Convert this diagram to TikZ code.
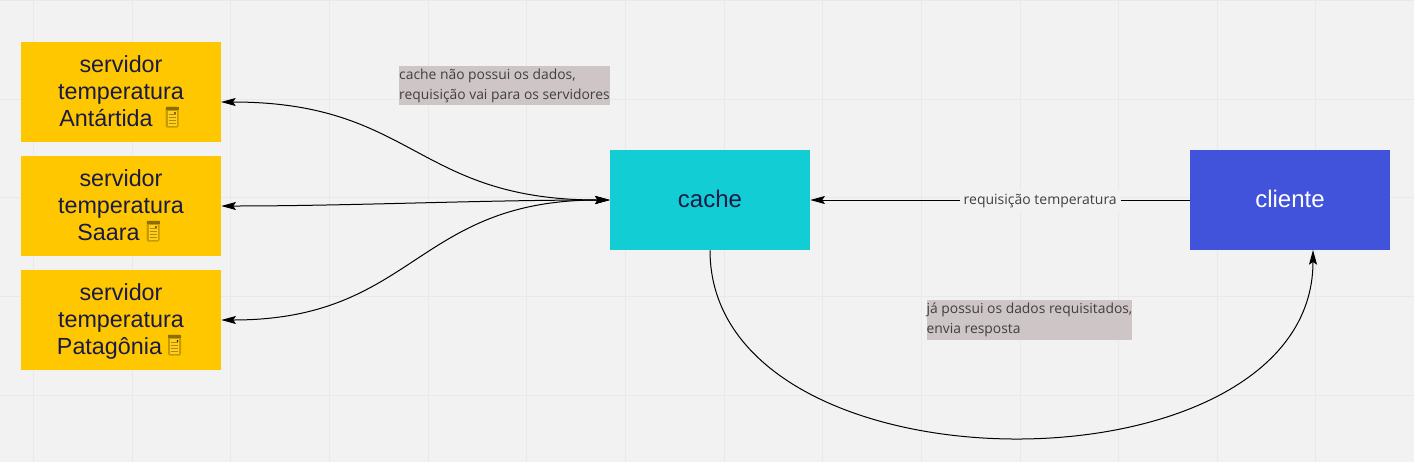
\documentclass[tikz,border=0pt]{standalone}
\usepackage{fontspec}
\setmainfont{Liberation Sans}
\newfontfamily\notefont{Open Sans}
\usetikzlibrary{arrows.meta}
\definecolor{paper}{RGB}{242,242,242}
\definecolor{gridline}{RGB}{233,233,233}
\definecolor{serverfill}{RGB}{255,199,0}
\definecolor{cachefill}{RGB}{18,205,212}
\definecolor{clientfill}{RGB}{65,83,219}
\definecolor{notefill}{RGB}{206,198,198}
\definecolor{boxtext}{RGB}{26,26,70}
\definecolor{notetext}{RGB}{64,64,64}
\tikzset{
  box/.style={minimum width=150pt,minimum height=75pt,inner sep=0pt,align=center,text=boxtext,text depth=1.5pt,font=\fontsize{18}{20.25}\selectfont},
  serverbox/.style={box,fill=serverfill,font=\fontsize{17.5}{20.25}\selectfont},
  note/.style={fill=notefill,text=notetext,inner sep=0pt,minimum height=29.5pt,align=left,execute at begin node={\rule{0pt}{11pt}},font=\notefont\fontsize{10.4}{15}\selectfont},
  link/.style={black,line width=0.75pt},
  both/.style={{Stealth[length=11pt,width=6pt,inset=2pt]}-{Stealth[length=11pt,width=6pt,inset=2pt]}},
  single/.style={-{Stealth[length=11pt,width=6pt,inset=2pt]}},
  servericon/.pic={
    \fill[rounded corners=1pt,fill=serverfill!78!black] (-6.5,-10.5) rectangle (6.5,10.5);
    \fill[fill=serverfill!88!white] (-4.5,-8.5) rectangle (4.5,6.5);
    \foreach \y in {-6,-3,0,3}
      \draw[serverfill!70!black,line width=0.6pt] (-3.5,\y) -- (3.5,\y);
    \fill[serverfill!55!black] (-6.5,7.5) rectangle (6.5,10.5);
    \fill[black] (3,4) circle (0.8);
  }
}
\begin{document}
\begin{tikzpicture}[x=0.75pt,y=0.75pt,yscale=-1,xscale=1]
    \useasboundingbox (0,0) rectangle (1414,462);
    \fill[paper] (0,0) rectangle (1414,462);
    % grid
    \foreach \i in {0,...,13}
        \draw[gridline,line width=0.75pt] ({33.5+98.65*\i},0) -- ({33.5+98.65*\i},462);
    \foreach \i in {0,...,4}
        \draw[gridline,line width=0.75pt] (0,{0.4+98.65*\i}) -- (1414,{0.4+98.65*\i});
    % servers
    \node (antartida) [serverbox] at (121,92) {servidor\\temperatura\\Antártida\hspace*{22.5pt}};
    \node (saara) [serverbox] at (121,206) {servidor\\temperatura\\Saara\hspace*{18.75pt}};
    \node (patagonia) [serverbox] at (121,320) {servidor\\temperatura\\Patagônia\hspace*{17.25pt}};
    \pic at (172,117) {servericon};
    \pic at (153,231) {servericon};
    \pic at (174.5,345) {servericon};
    \node (cache) [box,fill=cachefill] at (710,200) {cache};
    \node (cliente) [box,fill=clientfill,text=white] at (1290,200) {cliente};
    % links
    \coordinate (antartidaport) at (221,102);
    \draw[link,both] (cache.west) .. controls (415,200) and (415,102) .. (antartidaport);
    \draw[link,both] (cache.west) .. controls (480,200) and (350,206) .. (saara.east);
    \draw[link,both] (cache.west) .. controls (415,200) and (415,320) .. (patagonia.east);
    \draw[link,single] (cliente.west) -- node[pos=0.394,yshift=-0.5pt,fill=paper,inner sep=3pt,text=notetext,font=\notefont\fontsize{10.5}{12}\selectfont] (requisicao) {requisição temperatura} (cache.east);
    \coordinate (clienteport) at (1313,250);
    \draw[link,single] (cache.south) .. controls (710,500) and (1313,500) .. (clienteport);
    % notes
    \node (semdados) [note] at (504.5,85.5) {cache não possui os dados,\\requisição vai para os servidores};
    \node (comdados) [note] at (1029.5,320) {já possui os dados requisitados,\\envia resposta};
\end{tikzpicture}
\end{document}
